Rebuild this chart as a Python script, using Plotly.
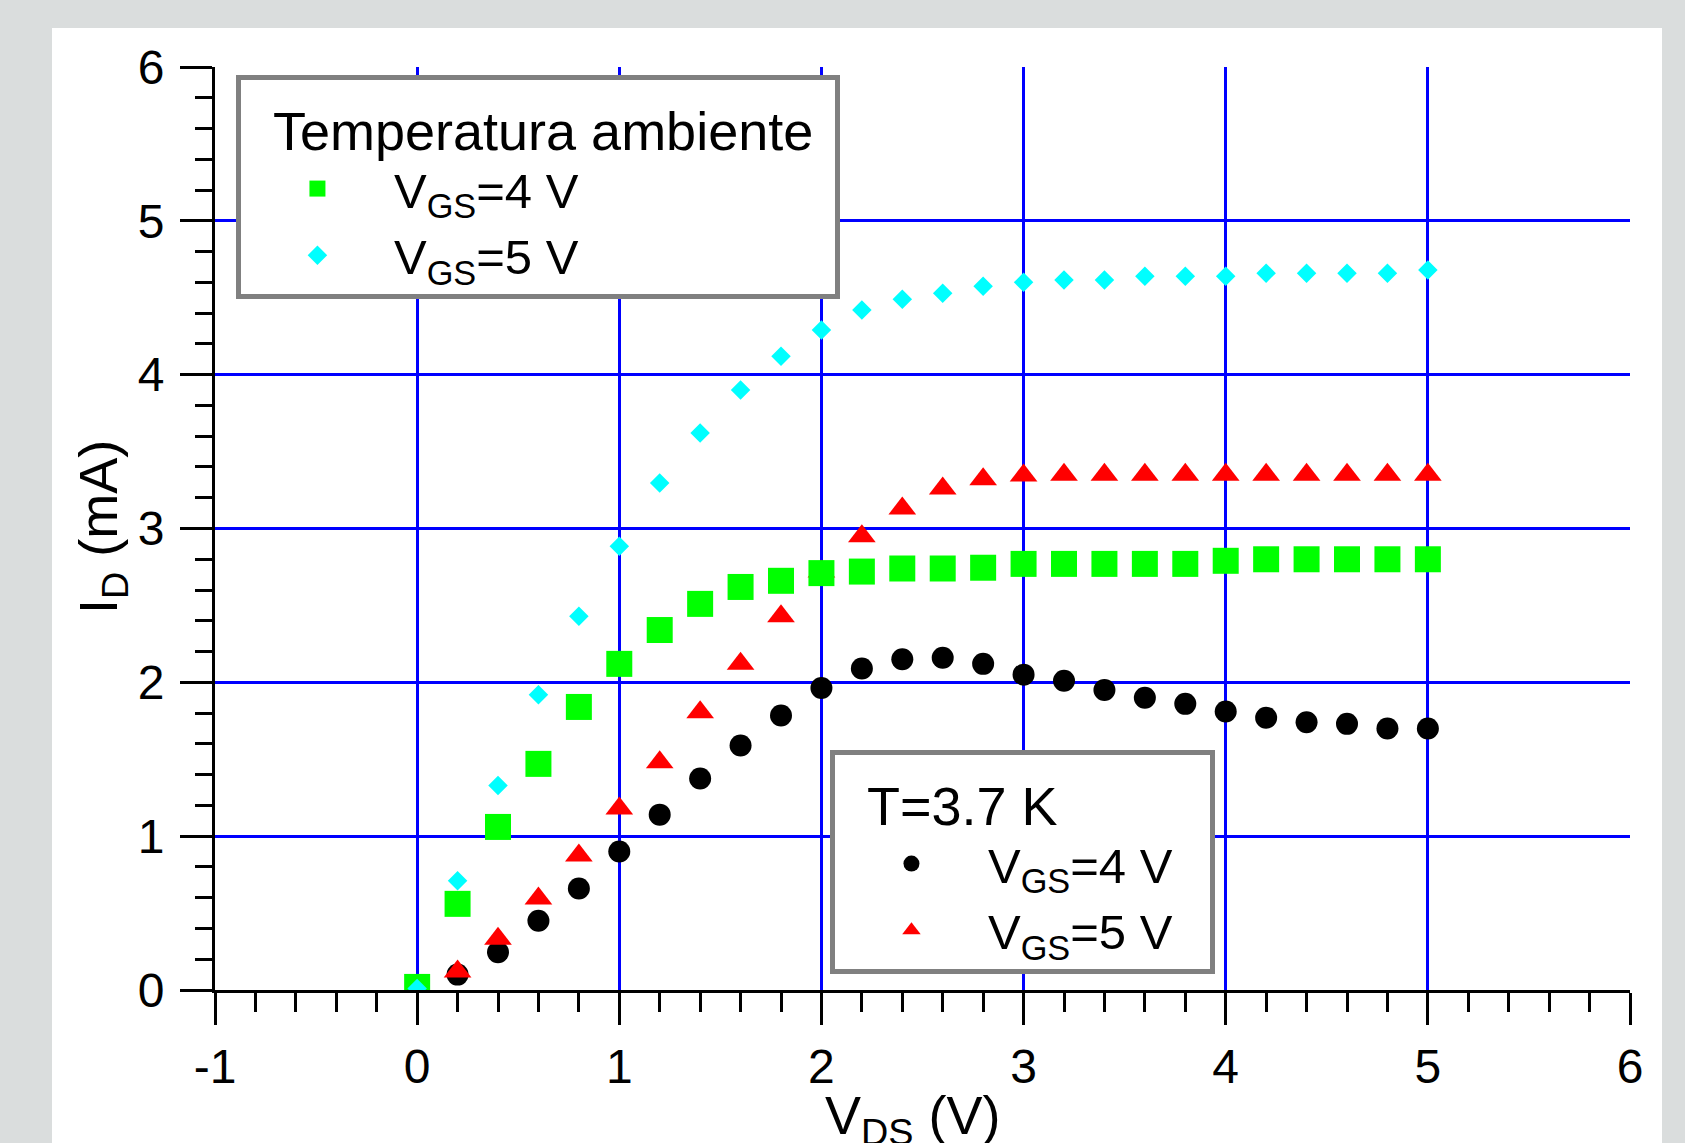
import plotly.graph_objects as go

# ---- data ----
VDS = [0.0, 0.2, 0.4, 0.6, 0.8, 1.0, 1.2, 1.4, 1.6, 1.8, 2.0, 2.2, 2.4, 2.6,
       2.8, 3.0, 3.2, 3.4, 3.6, 3.8, 4.0, 4.2, 4.4, 4.6, 4.8, 5.0]

ID_amb_vgs4 = [0.02, 0.56, 1.06, 1.47, 1.84, 2.12, 2.34, 2.51, 2.62, 2.66, 2.71,
               2.72, 2.74, 2.74, 2.745, 2.77, 2.77, 2.77, 2.77, 2.77, 2.79,
               2.80, 2.80, 2.80, 2.80, 2.80]
ID_amb_vgs5 = [0.01, 0.71, 1.33, 1.92, 2.43, 2.885, 3.295, 3.62, 3.90, 4.12,
               4.29, 4.42, 4.49, 4.53, 4.575, 4.60, 4.615, 4.615, 4.64, 4.64,
               4.64, 4.66, 4.66, 4.66, 4.66, 4.68]
ID_cold_vgs4 = [0.0, 0.10, 0.245, 0.45, 0.66, 0.90, 1.14, 1.375, 1.59, 1.785,
                1.963, 2.09, 2.15, 2.16, 2.12, 2.05, 2.01, 1.95, 1.90, 1.86,
                1.81, 1.77, 1.74, 1.73, 1.70, 1.70]
ID_cold_vgs5 = [0.0, 0.12, 0.333, 0.595, 0.875, 1.18, 1.48, 1.805, 2.12, 2.43,
                2.72, 2.95, 3.13, 3.26, 3.32, 3.345, 3.35, 3.35, 3.35, 3.35,
                3.35, 3.35, 3.35, 3.35, 3.35, 3.35]

x_ticks = [-1, 0, 1, 2, 3, 4, 5, 6]
y_ticks = [0, 1, 2, 3, 4, 5, 6]
x_grid = [0, 1, 2, 3, 4, 5]
y_grid = [1, 2, 3, 4, 5]

x_title = "V<sub>DS</sub> (V)"
y_title = "I<sub>D</sub> (mA)"
legend1_title = "Temperatura ambiente"
legend2_title = "T=3.7 K"
name_vgs4 = "V<sub>GS</sub>=4 V"
name_vgs5 = "V<sub>GS</sub>=5 V"

FONT = "Liberation Sans"
BLUE = "#0000ff"
NB = "&nbsp;"

fig = go.Figure()

fig.add_trace(go.Scatter(x=VDS, y=ID_cold_vgs4, mode="markers", name=name_vgs4,
                         legend="legend2",
                         marker=dict(symbol="circle", size=22, color="#000000",
                                     line=dict(width=0))))
fig.add_trace(go.Scatter(x=VDS, y=ID_cold_vgs5, mode="markers", name=name_vgs5,
                         legend="legend2",
                         marker=dict(symbol="triangle-up", size=24, color="#ff0000",
                                     line=dict(width=0))))
fig.add_trace(go.Scatter(x=VDS, y=ID_amb_vgs4, mode="markers", name=name_vgs4,
                         legend="legend",
                         marker=dict(symbol="square", size=26, color="#00ff00",
                                     line=dict(width=0))))
fig.add_trace(go.Scatter(x=VDS, y=ID_amb_vgs5, mode="markers", name=name_vgs5,
                         legend="legend",
                         marker=dict(symbol="diamond", size=15, color="#00ffff",
                                     line=dict(width=0))))

# empty helper traces so the grid-only overlay axes get drawn
fig.add_trace(go.Scatter(x=[], y=[], xaxis="x2", yaxis="y", showlegend=False,
                         hoverinfo="skip"))
fig.add_trace(go.Scatter(x=[], y=[], xaxis="x", yaxis="y2", showlegend=False,
                         hoverinfo="skip"))

W, H = 1685, 1143
L, R, T, B = 215, 55, 67, 153
PW, PH = W - L - R, H - T - B

fig.update_layout(
    width=W, height=H,
    margin=dict(l=L, r=R, t=T, b=B, pad=0),
    paper_bgcolor="#dadddd",
    plot_bgcolor="#ffffff",
    font=dict(family=FONT, color="#000000", size=48),
    xaxis=dict(
        range=[-1, 6], tickmode="array", tickvals=x_ticks,
        ticktext=[str(v) for v in x_ticks],
        showgrid=False, zeroline=False,
        showline=True, linecolor="#000000", linewidth=3,
        ticks="outside", ticklen=32, tickwidth=3, tickcolor="#000000",
        tickfont=dict(family=FONT, size=48, color="#000000"),
        ticklabelstandoff=0,
        minor=dict(dtick=0.2, tick0=-1, ticks="outside", ticklen=19,
                   tickwidth=3, tickcolor="#000000", showgrid=False),
        automargin=False,
    ),
    yaxis=dict(
        range=[0, 6], tickmode="array", tickvals=y_ticks,
        ticktext=[str(v) for v in y_ticks],
        showgrid=False, zeroline=False,
        showline=True, linecolor="#000000", linewidth=3,
        ticks="outside", ticklen=32, tickwidth=3, tickcolor="#000000",
        tickfont=dict(family=FONT, size=48, color="#000000"),
        ticklabelstandoff=6,
        minor=dict(dtick=0.2, tick0=0, ticks="outside", ticklen=17,
                   tickwidth=3, tickcolor="#000000", showgrid=False),
        automargin=False,
    ),
    xaxis2=dict(
        overlaying="x", range=[-1, 6], tickmode="array", tickvals=x_grid,
        showgrid=True, gridcolor=BLUE, gridwidth=3, zeroline=False,
        showline=False, ticks="", showticklabels=False,
    ),
    yaxis2=dict(
        overlaying="y", range=[0, 6], tickmode="array", tickvals=y_grid,
        showgrid=True, gridcolor=BLUE, gridwidth=3, zeroline=False,
        showline=False, ticks="", showticklabels=False,
    ),
    legend=dict(
        x=0.0148, y=0.9913, xanchor="left", yanchor="top",
        bgcolor="#ffffff", bordercolor="#808080", borderwidth=5,
        font=dict(family=FONT, size=49, color="#000000"),
        title=dict(text=NB * 2 + legend1_title + NB + "&#8202;",
                   font=dict(family=FONT, size=54)),
        itemwidth=143, traceorder="normal",
    ),
    legend2=dict(
        x=0.4346, y=0.26, xanchor="left", yanchor="top",
        bgcolor="#ffffff", bordercolor="#808080", borderwidth=5,
        font=dict(family=FONT, size=49, color="#000000"),
        title=dict(text=NB * 2 + legend2_title + NB * 10,
                   font=dict(family=FONT, size=54)),
        itemwidth=143, traceorder="normal",
    ),
    annotations=[
        dict(text=x_title, xref="paper", yref="paper",
             x=(913 - L) / PW, y=-(1083 - (H - B)) / PH,
             xanchor="center", yanchor="top", showarrow=False,
             font=dict(family=FONT, size=54, color="#000000")),
        dict(text=y_title, xref="paper", yref="paper", textangle=-90,
             x=(102 - L) / PW, y=((H - B) - 527) / PH,
             xanchor="center", yanchor="middle", showarrow=False,
             font=dict(family=FONT, size=54, color="#000000")),
    ],
    shapes=[dict(type="rect", xref="paper", yref="paper",
                 x0=(52 - L) / PW, x1=(1662 - L) / PW,
                 y0=-(H - (H - B)) / PH - 0.01,
                 y1=((H - B) - 28) / PH,
                 fillcolor="#ffffff", line=dict(width=0), layer="below")],
)

fig.write_html("out.html", config={"displayModeBar": False},
               post_script="document.body.style.margin='0';document.body.style.overflow='hidden';")
